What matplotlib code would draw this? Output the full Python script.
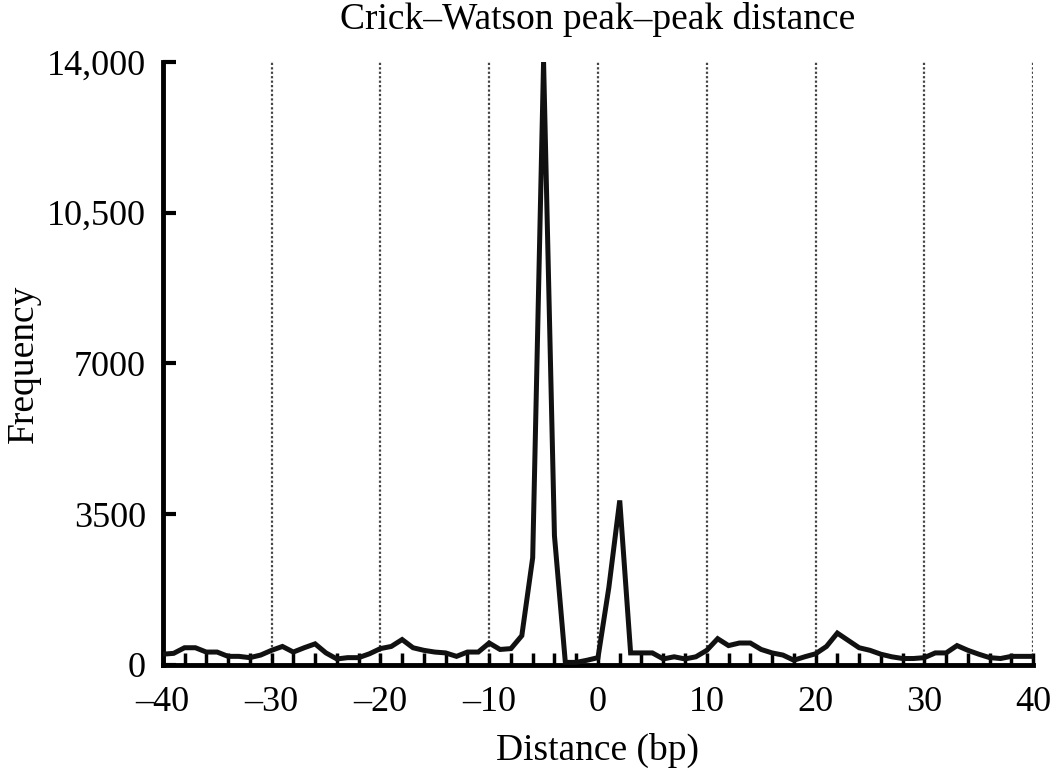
import matplotlib.pyplot as plt
from matplotlib.ticker import MultipleLocator

plt.rcParams["font.family"] = ["Liberation Serif", "DejaVu Serif"]
fontsize = 27
tick_fontsize = 26

distance = list(range(-40, 41))
frequency = [
    250, 270, 400, 400, 300, 300, 200, 200, 170, 230,   # -40 .. -31
    340, 430, 300, 400, 490, 280, 140, 170, 170, 260,   # -30 .. -21
    380, 430, 590, 400, 340, 300, 280, 200, 300, 300,   # -20 .. -11
    510, 360, 380, 680, 2490, 14000, 3000, 60, 60, 110,  # -10 .. -1
    170, 1800, 3820, 280, 280, 280, 140, 190, 140, 190,  # 0 .. 9
    340, 610, 450, 510, 510, 360, 280, 230, 110, 190,   # 10 .. 19
    260, 430, 740, 570, 400, 340, 250, 190, 150, 150,   # 20 .. 29
    170, 280, 280, 450, 340, 250, 170, 150, 200, 200,   # 30 .. 39
    200,                                                # 40
]
xticks = [-40, -30, -20, -10, 0, 10, 20, 30, 40]
xticklabels = ["\u201340", "\u201330", "\u201320", "\u201310", "0", "10", "20", "30", "40"]
yticks = [0, 3500, 7000, 10500, 14000]
yticklabels = ["0", "3500", "7000", "10,500", "14,000"]

fig = plt.figure(figsize=(10.5, 7.7), dpi=100)
ax = fig.add_axes([0.155, 0.1364, 0.829, 0.7831])

for x in xticks[1:]:
    ax.axvline(x, color="#444444", linestyle=(0, (1, 1)), linewidth=1.6, zorder=1)

ax.plot(distance, frequency, color="#111111", linewidth=3.6, solid_joinstyle="miter", zorder=3)

ax.set_xlim(-40, 40)
ax.set_ylim(0, 14000)
ax.spines["top"].set_visible(False)
ax.spines["right"].set_visible(False)
ax.spines["left"].set_linewidth(3.5)
ax.spines["bottom"].set_linewidth(3.5)

ax.set_xticks(xticks)
ax.set_xticklabels(xticklabels, fontsize=tick_fontsize)
ax.xaxis.set_minor_locator(MultipleLocator(2))
ax.set_yticks(yticks)
ax.set_yticklabels(yticklabels, fontsize=tick_fontsize)
ax.tick_params(axis="x", which="major", direction="in", length=9, width=2.5, pad=15)
ax.tick_params(axis="x", which="minor", direction="in", length=9, width=2.5)
ax.tick_params(axis="y", which="major", direction="in", length=9, width=3, pad=12)

ax.set_xlabel("Distance (bp)", fontsize=fontsize, labelpad=10)
ax.set_ylabel("Frequency", fontsize=fontsize)
ax.yaxis.set_label_coords(-0.14, 0.5)
ax.set_title("Crick\u2013Watson peak\u2013peak distance", fontsize=fontsize, pad=24)

fig.savefig("out.png", dpi=100)
